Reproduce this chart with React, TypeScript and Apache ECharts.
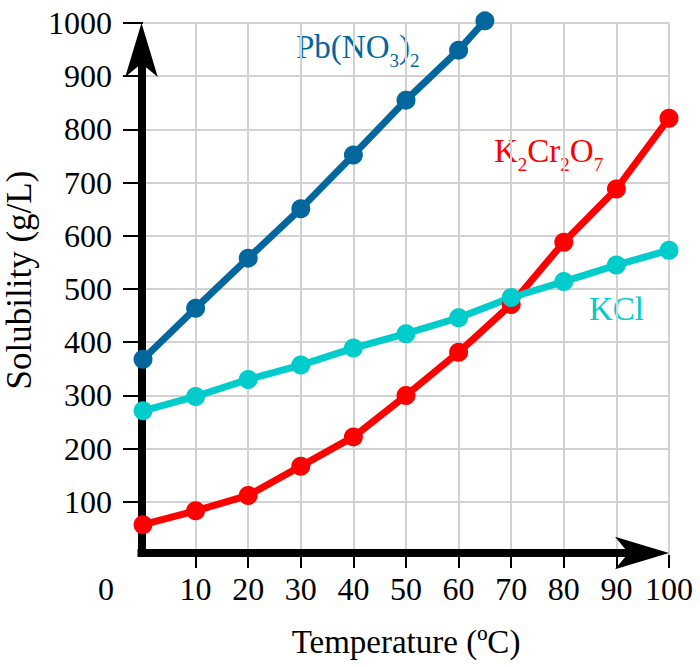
import React, { useEffect, useRef } from 'react';
import * as echarts from 'echarts';

const temperatures = [0, 10, 20, 30, 40, 50, 60, 70, 80, 90, 100];
const pbTemperatures = [0, 10, 20, 30, 40, 50, 60, 65];
const pbNO32 = [368, 464, 558, 651, 752, 855, 949, 1004];
const k2cr2o7 = [57, 83, 112, 167, 222, 300, 381, 471, 588, 688, 821];
const kcl = [271, 298, 330, 357, 389, 416, 446, 484, 514, 545, 573];

const xLabelValues = [0, 10, 20, 30, 40, 50, 60, 70, 80, 90, 100];
const xTickValues = [10, 20, 30, 40, 50, 60, 70, 80, 90, 100];
const yTickValues = [100, 200, 300, 400, 500, 600, 700, 800, 900, 1000];

const FONT = "'Liberation Serif', 'Times New Roman', serif";
const BLUE = '#03679E';
const RED = '#FF0000';
const CYAN = '#00CCCC';
const GRID = '#d2d2d2';

function chemLabel(parts: [string, boolean][]) {
  return parts.map(([t, sub]) => (sub ? `{b|${t}}` : `{a|${t}}`)).join('');
}

function richFor(color: string) {
  return {
    a: { fontSize: 33, fontFamily: FONT, lineHeight: 46, fill: color, verticalAlign: 'middle' },
    b: { fontSize: 19, fontFamily: FONT, lineHeight: 19, fill: color, verticalAlign: 'bottom' },
  };
}

export default function App() {
  const ref = useRef<HTMLDivElement>(null);
  useEffect(() => {
    if (!ref.current) return;
    const chart = echarts.init(ref.current, undefined, { renderer: 'svg' });
    const labelStyle = { color: '#000', fontSize: 32, fontFamily: FONT };
    const arrowLine = {
      show: true,
      symbol: ['none', 'arrow'],
      symbolSize: [24.4, 54],
      symbolOffset: [0, 40.5],
      lineStyle: { color: '#000', width: 8, cap: 'square' },
    };
    const option: any = {
      animation: false,
      backgroundColor: '#ffffff',
      grid: [
        { left: 143, top: 23, width: 526, height: 532, containLabel: false, outerBoundsMode: 'none' },
        { left: 141.5, top: 63.5, width: 487, height: 489.5, containLabel: false, outerBoundsMode: 'none' },
      ],
      xAxis: [
        {
          type: 'value',
          gridIndex: 0,
          min: 0,
          max: 100,
          interval: 10,
          name: 'Temperature (ºC)',
          nameLocation: 'middle',
          nameGap: 70,
          nameTextStyle: { ...labelStyle, fontSize: 33 },
          axisLine: { show: false },
          axisTick: {
            show: true,
            inside: false,
            length: 13,
            customValues: xTickValues,
            lineStyle: { color: '#000', width: 2 },
          },
          axisLabel: {
            ...labelStyle,
            margin: 18,
            customValues: xLabelValues,
            formatter: (v: number) => (v === 0 ? '{z|0}' : String(v)),
            rich: { z: { ...labelStyle, padding: [0, 74, 0, 0] } },
          },
          splitLine: { show: true, lineStyle: { color: GRID, width: 2 } },
        },
        {
          type: 'value',
          gridIndex: 1,
          min: 0,
          max: 1,
          z: 1,
          axisLine: arrowLine,
          axisTick: { show: false },
          axisLabel: { show: false },
          splitLine: { show: false },
        },
      ],
      yAxis: [
        {
          type: 'value',
          gridIndex: 0,
          min: 0,
          max: 1000,
          interval: 100,
          name: 'Solubility (g/L)',
          nameLocation: 'middle',
          nameGap: 96,
          nameTextStyle: { ...labelStyle, fontSize: 35, padding: [0, 0, 0, 18] },
          axisLine: { show: false },
          axisTick: {
            show: true,
            inside: false,
            length: 20,
            customValues: yTickValues,
            lineStyle: { color: '#000', width: 2 },
          },
          axisLabel: {
            ...labelStyle,
            margin: 31,
            customValues: yTickValues,
            formatter: (v: number) => String(v),
            padding: [0, 0, 8, 0],
          },
          splitLine: { show: true, lineStyle: { color: GRID, width: 2 } },
        },
        {
          type: 'value',
          gridIndex: 1,
          min: 0,
          max: 1,
          z: 1,
          axisLine: arrowLine,
          axisTick: { show: false },
          axisLabel: { show: false },
          splitLine: { show: false },
        },
      ],
      series: [
        {
          name: 'Pb(NO3)2',
          type: 'line',
          xAxisIndex: 0,
          yAxisIndex: 0,
          data: pbTemperatures.map((t, i) => [t, pbNO32[i]]),
          symbol: 'circle',
          symbolSize: 19,
          showSymbol: true,
          clip: false,
          lineStyle: { color: BLUE, width: 7 },
          itemStyle: { color: BLUE },
        },
        {
          name: 'K2Cr2O7',
          type: 'line',
          xAxisIndex: 0,
          yAxisIndex: 0,
          data: temperatures.map((t, i) => [t, k2cr2o7[i]]),
          symbol: 'circle',
          symbolSize: 19,
          showSymbol: true,
          clip: false,
          lineStyle: { color: RED, width: 7 },
          itemStyle: { color: RED },
        },
        {
          name: 'KCl',
          type: 'line',
          xAxisIndex: 0,
          yAxisIndex: 0,
          data: temperatures.map((t, i) => [t, kcl[i]]),
          symbol: 'circle',
          symbolSize: 19,
          showSymbol: true,
          clip: false,
          lineStyle: { color: CYAN, width: 7 },
          itemStyle: { color: CYAN },
        },
      ],
      graphic: [
        {
          type: 'text',
          x: 296,
          y: 24,
          style: {
            text: chemLabel([['Pb(NO', false], ['3', true], [')', false], ['2', true]]),
            rich: richFor(BLUE),
            fill: BLUE,
            verticalAlign: 'top',
          },
        },
        {
          type: 'text',
          x: 494,
          y: 128,
          style: {
            text: chemLabel([['K', false], ['2', true], ['Cr', false], ['2', true], ['O', false], ['7', true]]),
            rich: richFor(RED),
            fill: RED,
            verticalAlign: 'top',
          },
        },
        {
          type: 'text',
          x: 589,
          y: 286,
          style: {
            text: chemLabel([['KCl', false]]),
            rich: richFor(CYAN),
            fill: CYAN,
            verticalAlign: 'top',
          },
        },
      ],
    };
    chart.setOption(option);
    return () => chart.dispose();
  }, []);
  return (
    <div
      ref={ref}
      style={{ position: 'fixed', left: 0, top: 0, width: 700, height: 667, background: '#fff' }}
    />
  );
}
